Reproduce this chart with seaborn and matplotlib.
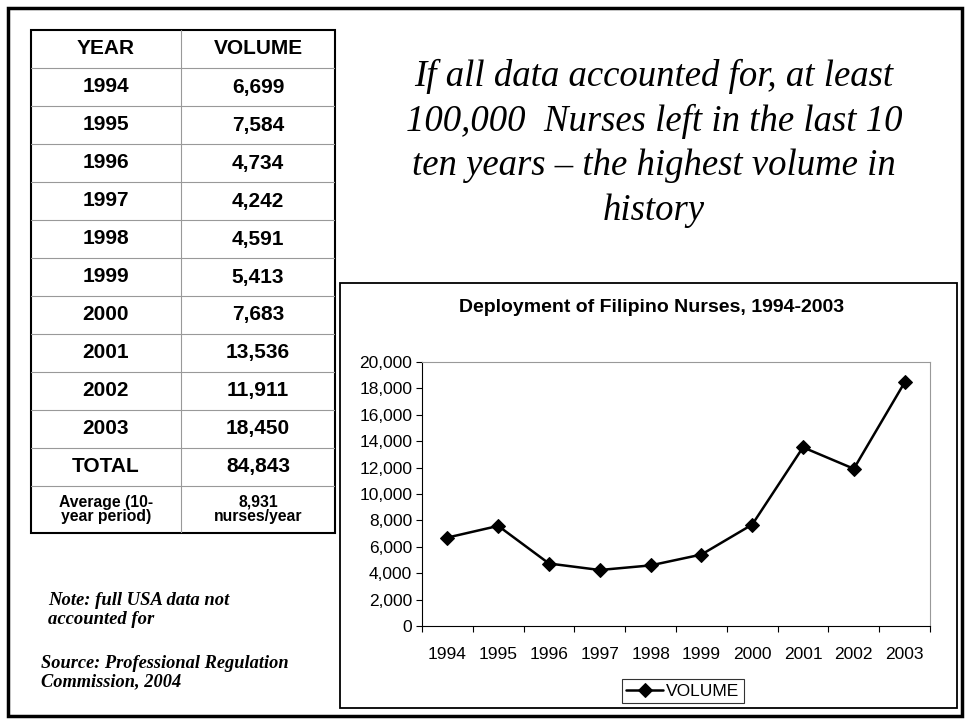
import matplotlib
matplotlib.use("Agg")
import matplotlib.pyplot as plt
import matplotlib.patches as patches
from matplotlib.ticker import FuncFormatter, FixedLocator
import seaborn as sns
import pandas as pd

# Data
years = ["1994", "1995", "1996", "1997", "1998", "1999", "2000", "2001", "2002", "2003"]
volumes = [6699, 7584, 4734, 4242, 4591, 5413, 7683, 13536, 11911, 18450]
table_volume_labels = ["6,699", "7,584", "4,734", "4,242", "4,591", "5,413",
                       "7,683", "13,536", "11,911", "18,450"]
total_label = "84,843"
average_label = "8,931\nnurses/year"

W, H = 967, 721
sns.set_theme(style="white")
plt.rcParams['font.family'] = ['Liberation Sans', 'DejaVu Sans']
plt.rcParams['text.color'] = 'black'
plt.rcParams['xtick.color'] = 'black'
plt.rcParams['ytick.color'] = 'black'

fig = plt.figure(figsize=(W / 100, H / 100), dpi=100)
fig.patch.set_facecolor("white")


def fx(px):
    return px / W


def fy(py):
    return 1 - py / H


# slide border
fig.patches.append(patches.Rectangle((fx(8), fy(716)), fx(954), (708) / H,
                                     transform=fig.transFigure, fill=False,
                                     edgecolor="black", linewidth=2.5))

# ---- table on the left ----
tx0, tx1, ty0, ty1 = 31, 335, 30, 533
ax_t = fig.add_axes([fx(tx0), fy(ty1), fx(tx1 - tx0), (ty1 - ty0) / H])
ax_t.set_xlim(0, tx1 - tx0)
ax_t.set_ylim(ty1 - ty0, 0)
ax_t.axis("off")

row_h = 38
rows = [("YEAR", "VOLUME")] + list(zip(years, table_volume_labels)) + [("TOTAL", total_label)]
col_split = 150
for i, (a, b) in enumerate(rows):
    yc = i * row_h + row_h / 2
    ax_t.text(col_split / 2, yc, a, ha="center", va="center", fontsize=15, fontweight="bold")
    ax_t.text((col_split + (tx1 - tx0)) / 2, yc, b, ha="center", va="center",
              fontsize=15, fontweight="bold")
    if i > 0:
        ax_t.axhline(i * row_h, color="#999999", linewidth=0.8)
ax_t.axhline(len(rows) * row_h, color="#999999", linewidth=0.8)
avg_y = len(rows) * row_h + (ty1 - ty0 - len(rows) * row_h) / 2
ax_t.text(col_split / 2, avg_y, "Average (10-\nyear period)", ha="center", va="center",
          fontsize=11.3, fontweight="bold", linespacing=0.95)
ax_t.text((col_split + (tx1 - tx0)) / 2, avg_y, average_label, ha="center", va="center",
          fontsize=11.3, fontweight="bold", linespacing=0.95)
ax_t.axvline(col_split, color="#999999", linewidth=0.8)
ax_t.add_patch(patches.Rectangle((0, 0), tx1 - tx0, ty1 - ty0, fill=False,
                                 edgecolor="black", linewidth=1.5, clip_on=False))

# ---- headline text ----
headline = ["If all data accounted for, at least",
            "100,000  Nurses left in the last 10",
            "ten years \u2013 the highest volume in",
            "history"]
for i, line in enumerate(headline):
    fig.text(fx(654), fy(86 + i * 44.7), line, ha="center", va="baseline",
             fontsize=26.5, fontstyle="italic", family=["Liberation Serif", "DejaVu Serif"])

# ---- notes ----
fig.text(fx(48), fy(610), "Note: full USA data not\naccounted for", ha="left", va="center",
         fontsize=13.4, fontstyle="italic", fontweight="bold", linespacing=1.2,
         family=["Liberation Serif", "DejaVu Serif"])
fig.text(fx(41), fy(673), "Source: Professional Regulation\nCommission, 2004", ha="left",
         va="center", fontsize=13.2, fontstyle="italic", fontweight="bold", linespacing=1.1,
         family=["Liberation Serif", "DejaVu Serif"])

# ---- chart box ----
fig.patches.append(patches.Rectangle((fx(340), fy(708)), fx(957 - 340), (708 - 283) / H,
                                     transform=fig.transFigure, fill=False,
                                     edgecolor="black", linewidth=1.3))
fig.text(fx(652), fy(308), "Deployment of Filipino Nurses, 1994-2003", ha="center",
         va="center", fontsize=14, fontweight="bold")

px0, px1, py0, py1 = 422, 930, 362, 626
ax = fig.add_axes([fx(px0), fy(py1), fx(px1 - px0), (py1 - py0) / H])
df = pd.DataFrame({"x": range(len(years)), "VOLUME": volumes})
sns.lineplot(data=df, x="x", y="VOLUME", ax=ax, color="black", linewidth=1.8,
             marker="D", markersize=7.5, markeredgecolor="black", label="VOLUME")
ax.set_xlim(-0.5, len(years) - 0.5)
ax.set_ylim(0, 20000)
ax.set_yticks(range(0, 20001, 2000))
ax.yaxis.set_major_formatter(FuncFormatter(lambda v, p: f"{int(v):,}"))
ax.set_xticks(range(len(years)))
ax.set_xticklabels(years)
ax.xaxis.set_minor_locator(FixedLocator([i - 0.5 for i in range(len(years) + 1)]))
ax.tick_params(axis="x", which="major", length=0, pad=15, labelsize=12.5)
ax.tick_params(axis="x", which="minor", length=4, width=0.8, direction="out", bottom=True)
ax.tick_params(axis="y", length=4, width=0.8, direction="out", left=True, labelsize=12.5, pad=3)
ax.set_xlabel("")
ax.set_ylabel("")
for s in ["top", "right"]:
    ax.spines[s].set_color("#999999")
    ax.spines[s].set_linewidth(0.8)
for s in ["left", "bottom"]:
    ax.spines[s].set_color("black")
    ax.spines[s].set_linewidth(0.8)

leg = ax.legend(loc="center", bbox_to_anchor=(fx(683), fy(691)),
                bbox_transform=fig.transFigure, frameon=True, fancybox=False,
                fontsize=12.5, handlelength=2.1, borderpad=0.25, handletextpad=0.2)
leg.get_frame().set_edgecolor("black")
leg.get_frame().set_linewidth(0.8)

fig.savefig("out.png", dpi=100)
